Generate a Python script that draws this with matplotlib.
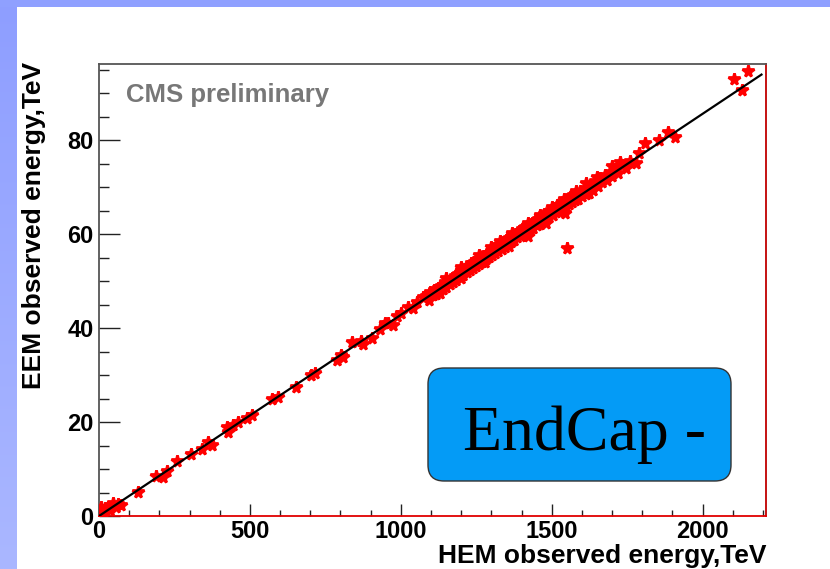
import numpy as np
import matplotlib
matplotlib.use("Agg")
import matplotlib.pyplot as plt
from matplotlib.patches import FancyBboxPatch, Rectangle
from matplotlib.transforms import IdentityTransform
from matplotlib.ticker import MultipleLocator

plt.rcParams['font.family'] = ['Liberation Sans', 'DejaVu Sans']

# HEM vs EEM observed energy per run (TeV)
hem_energy = [
    5, 10, 15, 20, 31, 38, 47, 55, 64, 72,
    128, 189, 213, 224, 260, 304, 340, 362, 373, 423,
    428, 445, 461, 492, 506, 572, 594, 652, 702, 715,
    787, 801, 809, 837, 868, 875, 903, 930, 947, 958,
    975, 986, 1002, 1024, 1041, 1052, 1074,
    1085, 1092, 1098, 1105, 1110, 1116, 1122, 1128, 1133, 1140,
    1146, 1150, 1157, 1162, 1168, 1174, 1178, 1183, 1190, 1196,
    1201, 1206, 1212, 1218, 1222, 1228, 1233, 1238, 1244, 1250,
    1255, 1260, 1266, 1270, 1276, 1282, 1287, 1292, 1298, 1302,
    1308, 1313, 1318, 1323, 1328, 1334, 1339, 1344, 1349, 1354,
    1360, 1365, 1370, 1376, 1381, 1386, 1391, 1397, 1402, 1407,
    1412, 1418, 1423, 1428, 1434, 1439, 1444, 1450, 1455, 1460,
    1466, 1471, 1476, 1482, 1487, 1492, 1498, 1503, 1508, 1514,
    1519, 1524, 1530, 1535, 1540, 1546, 1551, 1556, 1562, 1567,
    1572, 1578, 1583, 1588, 1594, 1600, 1606, 1612, 1618, 1624,
    1630, 1636, 1644, 1652, 1660, 1668, 1675, 1684, 1692, 1700,
    1710, 1720, 1732, 1745, 1758, 1778, 1790, 1809, 1857, 1884,
    1910, 2103, 2130, 2151, 1552,
    1150, 1200, 1260, 1300, 1330, 1370, 1420, 1460, 1500, 1540,
    1580, 1615, 1650, 1700, 1725, 1543, 1480, 1420, 1360, 1280,
    1200, 1130,
]
eem_energy = [
    2.0, 1.0, 0.5, 1.6, 2.0, 1.2, 2.7, 2.0, 2.6, 2.4,
    5.2, 8.5, 8.4, 9.6, 11.6, 13.2, 14.2, 15.8, 15.1, 19.0,
    17.9, 19.4, 20.1, 20.9, 21.5, 25.0, 25.4, 27.4, 30.0, 30.5,
    33.3, 34.3, 33.9, 37.1, 37.3, 36.7, 37.8, 39.7, 41.0, 41.1,
    40.6, 42.6, 43.1, 44.5, 44.2, 45.6, 46.7,
    46.9, 45.9, 47.6, 47.0, 48.2, 47.3, 48.6, 47.6, 49.0, 48.4,
    49.7, 48.7, 50.1, 49.3, 50.6, 49.9, 51.1, 50.3, 51.6, 50.9,
    52.3, 51.2, 52.6, 51.9, 53.2, 52.4, 53.8, 52.7, 54.1, 53.3,
    54.6, 53.6, 55.2, 54.1, 55.4, 54.6, 56.0, 55.1, 56.5, 55.5,
    57.0, 56.0, 57.3, 56.4, 57.8, 56.9, 58.4, 57.3, 58.7, 57.8,
    59.2, 58.3, 59.7, 58.8, 60.1, 59.3, 60.6, 59.6, 61.0, 60.1,
    61.5, 60.5, 61.9, 60.9, 62.4, 61.3, 62.8, 61.9, 63.2, 62.2,
    63.7, 62.8, 64.2, 63.2, 64.6, 63.6, 65.1, 64.1, 65.6, 64.6,
    66.1, 65.0, 66.5, 65.5, 66.9, 65.9, 67.4, 66.3, 67.8, 66.8,
    68.3, 67.2, 68.6, 67.5, 69.1, 68.1, 69.4, 68.5, 69.9, 68.8,
    70.4, 69.4, 71.3, 70.3, 72.0, 71.0, 72.6, 71.6, 73.3, 72.3,
    73.9, 72.9, 74.8, 74.0, 75.6, 75.1, 77.2, 79.3, 80.0, 81.8,
    80.7, 93.0, 90.6, 94.7, 57.1,
    50.6, 53.0, 55.6, 57.3, 58.5, 60.3, 62.3, 64.0, 65.8, 67.5,
    69.1, 70.8, 72.1, 74.4, 75.4, 64.4, 62.4, 59.6, 57.4, 54.0,
    50.6, 47.5,
]

# linear fit EEM = p0 + p1 * HEM
fit_p0 = 0.0
fit_p1 = 0.0428
fit_range = [0, 2195]

x_ticks = [0, 500, 1000, 1500, 2000]
y_ticks = [0, 20, 40, 60, 80]

W, H = 830, 569
fig = plt.figure(figsize=(W / 100, H / 100), dpi=100)
fig.patch.set_facecolor('white')

# slide decoration: left gradient band and top band
band = fig.add_axes([0, 0, 16 / W, 1])
grad = np.linspace(0, 1, 256).reshape(-1, 1)
top_c = np.array([0x8E, 0x9E, 0xFF]) / 255
bot_c = np.array([0xAA, 0xB7, 0xFF]) / 255
img = top_c[None, None, :] * (1 - grad[:, :, None]) + bot_c[None, None, :] * grad[:, :, None]
band.imshow(img, aspect='auto', extent=[0, 1, 0, 1], origin='upper')
band.set_axis_off()
fig.add_artist(Rectangle((0, 1 - 7 / H), 1, 7 / H, transform=fig.transFigure,
                         facecolor='#8FA0FF', edgecolor='none', zorder=5))

ax = fig.add_axes([99 / W, 1 - 516 / H, (766 - 99) / W, (516 - 64) / H])
ax.set_xlim(0, 2210)
ax.set_ylim(0, 96.2)

ax.plot(hem_energy, eem_energy, linestyle='none', marker='*', markersize=8.5,
        color='#ff0000', markeredgecolor='#ff0000', markeredgewidth=2.0, zorder=3)
fx = np.array(fit_range, dtype=float)
ax.plot(fx, fit_p0 + fit_p1 * fx, color='black', linewidth=1.6, zorder=4)

ax.set_xticks(x_ticks)
ax.set_yticks(y_ticks)
ax.xaxis.set_minor_locator(MultipleLocator(100))
ax.yaxis.set_minor_locator(MultipleLocator(5))
ax.tick_params(axis='both', which='both', direction='in', colors='#222222',
               labelcolor='black', top=False, right=False)
ax.tick_params(axis='y', which='major', length=15, width=1, pad=4)
ax.tick_params(axis='y', which='minor', length=7.5, width=1)
ax.tick_params(axis='x', which='major', length=9, width=1, pad=3)
ax.tick_params(axis='x', which='minor', length=4.5, width=1)
for lab in ax.get_xticklabels() + ax.get_yticklabels():
    lab.set_fontsize(17)
    lab.set_fontweight('bold')

ax.spines['top'].set_color('#555555')
ax.spines['left'].set_color('#555555')
ax.spines['bottom'].set_color('#e00000')
ax.spines['right'].set_color('#c00000')
for s in ax.spines.values():
    s.set_linewidth(1.3)

fig.text(766 / W, 1 - 568 / H, 'HEM observed energy,TeV', ha='right', va='bottom',
         fontsize=19, fontweight='bold')
fig.text(34 / W, 1 - 62 / H, 'EEM observed energy,TeV', ha='center', va='top',
         rotation=90, fontsize=19, fontweight='bold')

ax.text(126 / W, 1 - 95 / H, 'CMS preliminary', transform=fig.transFigure,
        ha='left', va='center', fontsize=18.5, fontweight='bold', color='#777777')

box = FancyBboxPatch((428, H - 481), 303, 113,
                     boxstyle='round,pad=0,rounding_size=16',
                     transform=IdentityTransform(), facecolor='#049BF6',
                     edgecolor='#333333', linewidth=1.0, zorder=10)
fig.add_artist(box)
fig.text(584.5 / W, 1 - 435 / H, 'EndCap -', ha='center', va='center',
         fontsize=46, family=['Liberation Serif', 'DejaVu Serif'], color='black',
         zorder=11)

fig.savefig('out.png', dpi=100)
